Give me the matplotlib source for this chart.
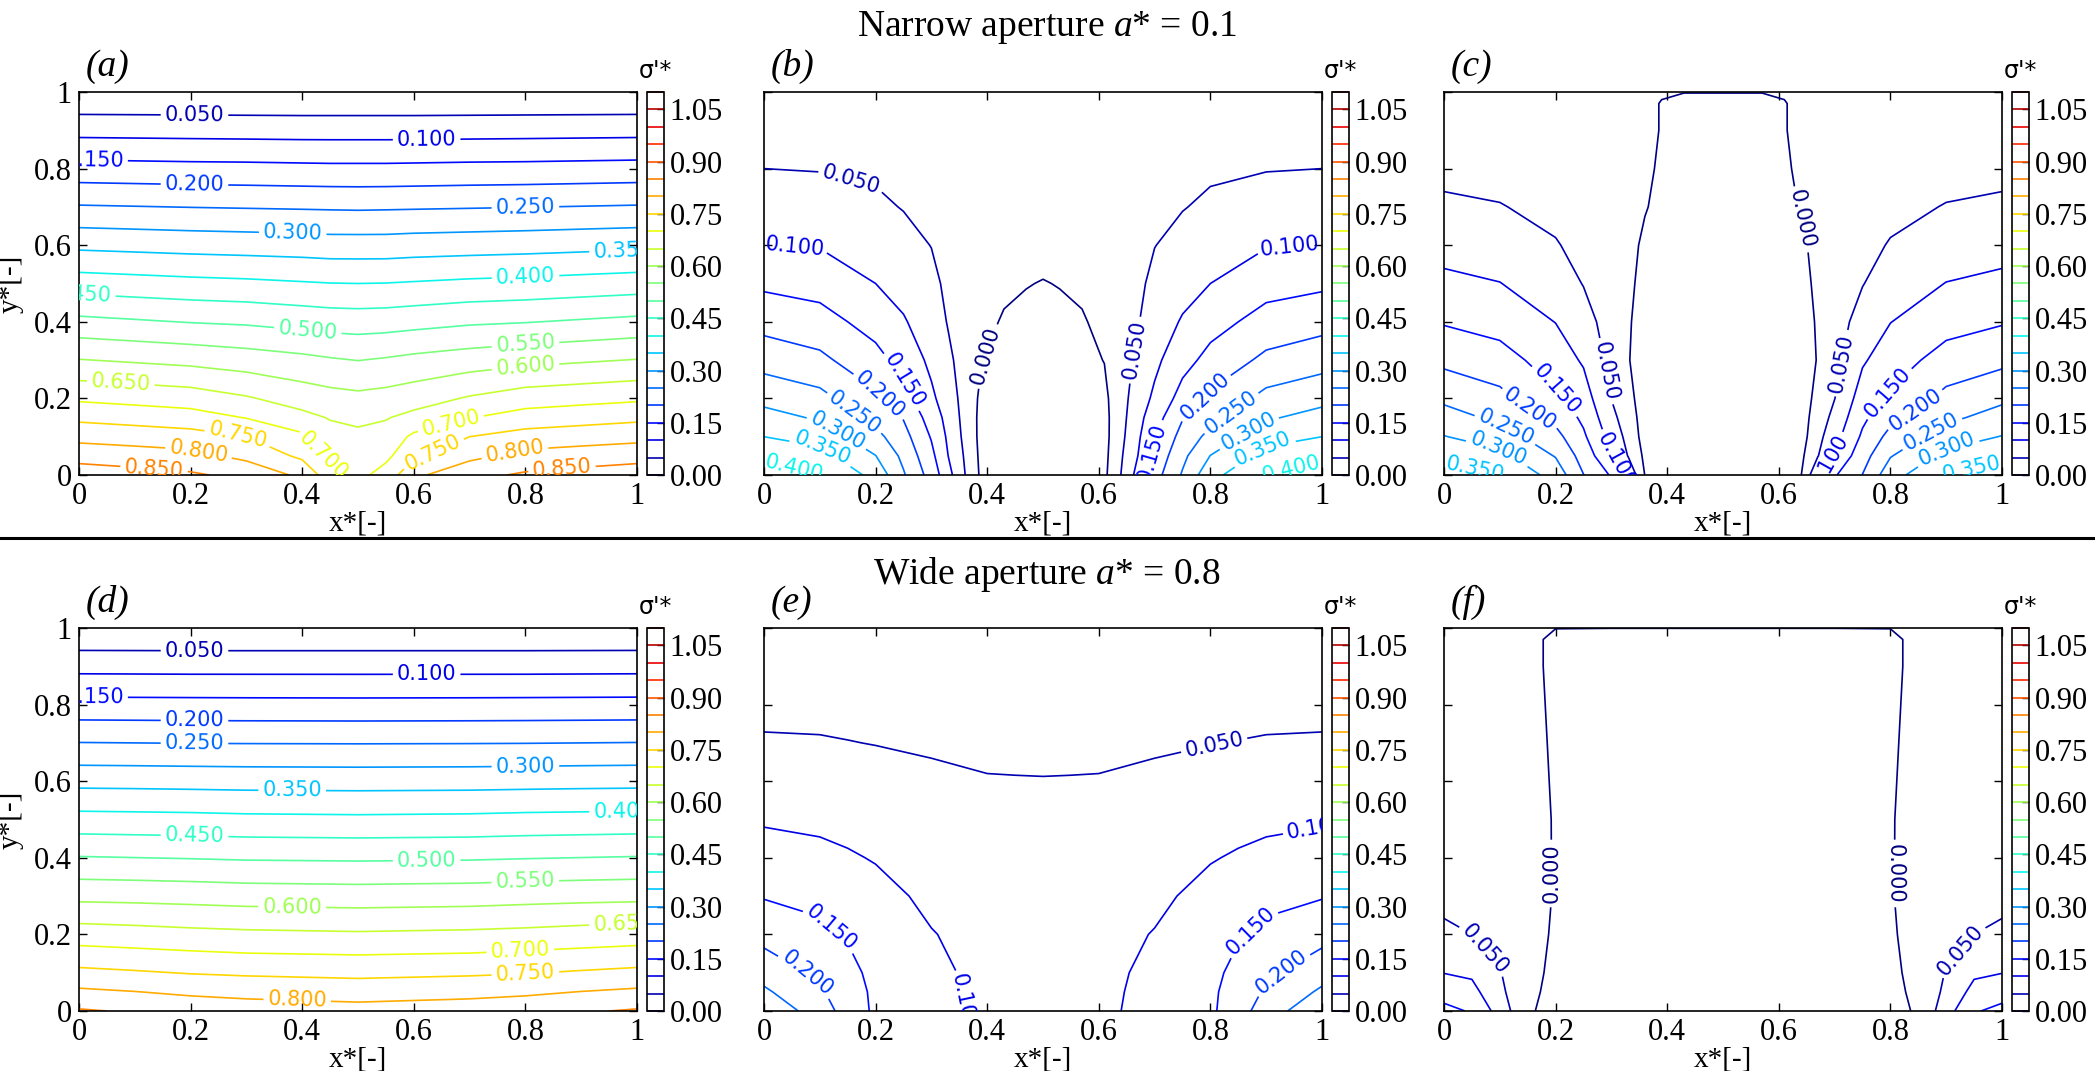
import numpy as np
import matplotlib
matplotlib.use("Agg")
import matplotlib.pyplot as plt
from matplotlib.colors import Normalize
from matplotlib.lines import Line2D

#######################################################
# data: sigma'* on a half grid (x* <= 0.5),
# every field is mirrored about x* = 0.5
#######################################################

levels = np.linspace(0.0, 1.1, 23)
cbar_ticks = [0.00, 0.15, 0.30, 0.45, 0.60, 0.75, 0.90, 1.05]

y_nodes = [0.0, 0.05, 0.1, 0.15, 0.2, 0.3, 0.4, 0.5, 0.6, 0.7, 0.8, 0.9, 1.0]

# (a) narrow aperture, first case -- one list per x* column, bottom to top
x_a = [0.0, 0.1, 0.2, 0.3, 0.4, 0.45, 0.5]
sig_a = [
    [0.878, 0.831, 0.785, 0.739, 0.692, 0.602, 0.513, 0.425, 0.339, 0.254, 0.169, 0.084, 0.002],
    [0.868, 0.823, 0.778, 0.730, 0.684, 0.594, 0.5055, 0.4195, 0.335, 0.2515, 0.167, 0.083, 0.002],
    [0.857, 0.815, 0.770, 0.721, 0.676, 0.586, 0.498, 0.414, 0.331, 0.249, 0.165, 0.082, 0.002],
    [0.836, 0.787, 0.750, 0.698, 0.655, 0.575, 0.493, 0.410, 0.328, 0.247, 0.164, 0.081, 0.002],
    [0.789, 0.740, 0.710, 0.664, 0.628, 0.563, 0.483, 0.404, 0.325, 0.245, 0.162, 0.080, 0.002],
    [0.721, 0.688, 0.668, 0.647, 0.618, 0.555, 0.478, 0.401, 0.322, 0.244, 0.161, 0.080, 0.002],
    [0.685, 0.672, 0.659, 0.641, 0.6125, 0.549, 0.476, 0.400, 0.322, 0.243, 0.161, 0.080, 0.002],
]

# (b) narrow aperture, second case
x_b = [0.0, 0.1, 0.2, 0.25, 0.3, 0.33, 0.36, 0.39, 0.43, 0.47, 0.5]
sig_b = [
    [0.430, 0.388, 0.350, 0.317, 0.286, 0.230, 0.183, 0.141, 0.100, 0.075, 0.050, 0.035, 0.025],
    [0.400, 0.368, 0.331, 0.294, 0.265, 0.211, 0.169, 0.131, 0.097, 0.071, 0.048, 0.033, 0.024],
    [0.335, 0.301, 0.265, 0.235, 0.210, 0.166, 0.131, 0.100, 0.079, 0.058, 0.043, 0.030, 0.022],
    [0.255, 0.238, 0.218, 0.197, 0.170, 0.132, 0.104, 0.084, 0.065, 0.048, 0.038, 0.028, 0.020],
    [0.180, 0.163, 0.146, 0.128, 0.109, 0.089, 0.076, 0.062, 0.049, 0.042, 0.035, 0.026, 0.019],
    [0.117, 0.100, 0.092, 0.084, 0.076, 0.060, 0.047, 0.040, 0.037, 0.034, 0.030, 0.024, 0.018],
    [0.051, 0.045, 0.038, 0.034, 0.031, 0.029, 0.028, 0.027, 0.026, 0.025, 0.023, 0.020, 0.016],
    [-0.010, -0.013, -0.015, -0.014, -0.010, 0.001, 0.009, 0.013, 0.015, 0.017, 0.017, 0.016, 0.014],
    [-0.020, -0.020, -0.020, -0.019, -0.017, -0.011, -0.003, 0.006, 0.011, 0.014, 0.015, 0.015, 0.013],
    [-0.024, -0.024, -0.023, -0.022, -0.020, -0.013, -0.006, 0.001, 0.009, 0.013, 0.014, 0.014, 0.012],
    [-0.025, -0.025, -0.024, -0.023, -0.021, -0.014, -0.007, -0.001, 0.008, 0.012, 0.014, 0.014, 0.012],
]

# (c) narrow aperture, third case
y_c = [0.0, 0.05, 0.1, 0.15, 0.2, 0.3, 0.4, 0.5, 0.6, 0.7, 0.8, 0.9, 0.97, 1.0]
x_c = [0.0, 0.1, 0.2, 0.25, 0.3, 0.33, 0.36, 0.39, 0.43, 0.5]
sig_c = [
    [0.370, 0.339, 0.302, 0.270, 0.240, 0.188, 0.146, 0.111, 0.083, 0.058, 0.038, 0.025, 0.018, 0.015],
    [0.352, 0.314, 0.274, 0.239, 0.214, 0.169, 0.132, 0.101, 0.076, 0.052, 0.035, 0.023, 0.017, 0.014],
    [0.280, 0.247, 0.216, 0.186, 0.158, 0.127, 0.099, 0.076, 0.053, 0.038, 0.027, 0.018, 0.013, 0.011],
    [0.201, 0.180, 0.158, 0.140, 0.124, 0.094, 0.071, 0.048, 0.037, 0.028, 0.021, 0.014, 0.0105, 0.009],
    [0.145, 0.105, 0.082, 0.065, 0.049, 0.035, 0.026, 0.020, 0.016, 0.013, 0.010, 0.007, 0.0056, 0.005],
    [0.095, 0.048, 0.035, 0.022, 0.012, 0.002, 0.004, 0.008, 0.010, 0.010, 0.009, 0.007, 0.0056, 0.005],
    [-0.001, -0.010, -0.020, -0.020, -0.020, -0.018, -0.016, -0.012, -0.006, 0.002, 0.004, 0.005, 0.005, 0.005],
    [-0.010, -0.018, -0.022, -0.023, -0.023, -0.022, -0.020, -0.017, -0.013, -0.008, -0.003, -0.001, -0.001, 0.002],
    [-0.015, -0.020, -0.023, -0.024, -0.024, -0.024, -0.023, -0.022, -0.021, -0.020, -0.020, -0.020, -0.020, 0.002],
    [-0.018, -0.021, -0.024, -0.025, -0.025, -0.025, -0.025, -0.024, -0.023, -0.022, -0.021, -0.020, -0.020, 0.002],
]

# (d) wide aperture, first case
x_d = [0.0, 0.1, 0.2, 0.3, 0.5]
sig_d = [
    [0.855, 0.809, 0.762, 0.718, 0.675, 0.587, 0.503, 0.418, 0.335, 0.251, 0.166, 0.084, 0.002],
    [0.845, 0.801, 0.755, 0.712, 0.670, 0.585, 0.5005, 0.4165, 0.334, 0.250, 0.1655, 0.0835, 0.002],
    [0.834, 0.791, 0.7475, 0.706, 0.664, 0.582, 0.498, 0.415, 0.3325, 0.249, 0.165, 0.083, 0.002],
    [0.826, 0.785, 0.743, 0.701, 0.660, 0.578, 0.495, 0.412, 0.331, 0.2485, 0.1645, 0.083, 0.002],
    [0.819, 0.778, 0.738, 0.697, 0.656, 0.575, 0.493, 0.410, 0.330, 0.248, 0.164, 0.083, 0.002],
]

# (e) wide aperture, second case
y_e = [0.0, 0.05, 0.1, 0.2, 0.3, 0.4, 0.5, 0.6, 0.7, 0.8, 0.9, 1.0]
x_e = [0.0, 0.1, 0.15, 0.2, 0.3, 0.4, 0.45, 0.5]
sig_e = [
    [0.285, 0.258, 0.231, 0.183, 0.147, 0.120, 0.095, 0.075, 0.054, 0.040, 0.028, 0.018],
    [0.228, 0.206, 0.190, 0.162, 0.136, 0.112, 0.090, 0.071, 0.053, 0.039, 0.027, 0.018],
    [0.177, 0.174, 0.166, 0.145, 0.126, 0.105, 0.085, 0.068, 0.051, 0.038, 0.027, 0.018],
    [0.142, 0.140, 0.135, 0.128, 0.115, 0.097, 0.079, 0.064, 0.049, 0.037, 0.026, 0.018],
    [0.115, 0.113, 0.110, 0.102, 0.090, 0.078, 0.067, 0.056, 0.046, 0.036, 0.026, 0.018],
    [0.090, 0.089, 0.088, 0.084, 0.078, 0.071, 0.063, 0.0515, 0.044, 0.035, 0.026, 0.018],
    [0.087, 0.086, 0.085, 0.082, 0.0765, 0.0695, 0.0615, 0.0512, 0.0435, 0.035, 0.026, 0.018],
    [0.085, 0.084, 0.083, 0.080, 0.075, 0.068, 0.060, 0.051, 0.043, 0.035, 0.026, 0.018],
]

# (f) wide aperture, third case
y_f = [0.0, 0.05, 0.1, 0.2, 0.3, 0.5, 0.7, 0.9, 0.97, 1.0]
x_f = [0.0, 0.05, 0.1, 0.15, 0.2, 0.3, 0.5]
sig_f = [
    [0.165, 0.128, 0.099, 0.060, 0.036, 0.022, 0.015, 0.012, 0.0105, 0.010],
    [0.145, 0.115, 0.092, 0.050, 0.035, 0.020, 0.014, 0.011, 0.0095, 0.009],
    [0.080, 0.062, 0.053, 0.035, 0.025, 0.015, 0.010, 0.008, 0.0073, 0.007],
    [0.003, 0.005, 0.007, 0.009, 0.009, 0.008, 0.007, 0.005, 0.005, 0.005],
    [-0.008, -0.006, -0.005, -0.003, -0.0015, -0.0015, -0.003, -0.004, -0.004, 0.0003],
    [-0.010, -0.010, -0.010, -0.010, -0.010, -0.010, -0.010, -0.010, -0.010, 0.0003],
    [-0.010, -0.010, -0.010, -0.010, -0.010, -0.010, -0.010, -0.010, -0.010, 0.0003],
]

#######################################################
# where the contour labels sit (x*, y*)
#######################################################

lab_a = [(0.207, 0.94), (0.623, 0.876), (0.027, 0.822), (0.207, 0.76), (0.80, 0.70),
         (0.383, 0.632), (0.975, 0.587), (0.80, 0.525), (0.005, 0.47), (0.41, 0.375),
         (0.80, 0.345), (0.80, 0.29), (0.075, 0.245), (0.285, 0.105), (0.445, 0.06),
         (0.215, 0.065), (0.135, 0.025), (0.665, 0.143), (0.63, 0.072), (0.78, 0.067),
         (0.865, 0.027)]
lab_b = [(0.154, 0.758), (0.055, 0.608), (0.247, 0.244), (0.211, 0.213), (0.166, 0.170),
         (0.133, 0.118), (0.106, 0.074), (0.055, 0.026), (0.391, 0.314), (0.661, 0.327),
         (0.942, 0.614), (0.789, 0.206), (0.833, 0.17), (0.865, 0.121), (0.893, 0.072),
         (0.942, 0.031), (0.685, 0.063)]
lab_c = [(0.287, 0.270), (0.201, 0.222), (0.156, 0.179), (0.114, 0.131), (0.098, 0.067),
         (0.057, 0.022), (0.308, 0.039), (0.642, 0.668), (0.716, 0.291), (0.796, 0.215),
         (0.84, 0.179), (0.868, 0.126), (0.90, 0.072), (0.944, 0.031), (0.692, 0.03)]
lab_d = [(0.207, 0.938), (0.623, 0.879), (0.027, 0.818), (0.207, 0.758), (0.207, 0.699),
         (0.80, 0.638), (0.382, 0.576), (0.975, 0.519), (0.207, 0.457), (0.623, 0.396),
         (0.80, 0.337), (0.382, 0.272), (0.975, 0.227), (0.791, 0.157), (0.80, 0.096),
         (0.391, 0.022)]
lab_e = [(0.807, 0.692), (0.99, 0.475), (0.122, 0.219), (0.082, 0.106), (0.357, 0.02),
         (0.871, 0.21), (0.923, 0.111)]
lab_f = [(0.082, 0.174), (0.194, 0.359), (0.808, 0.359), (0.918, 0.169)]

#######################################################
# figure set-up
#######################################################

plt.rcParams['font.family'] = 'Liberation Serif'
plt.rcParams['mathtext.fontset'] = 'custom'
plt.rcParams['mathtext.rm'] = 'Liberation Serif'
plt.rcParams['mathtext.it'] = 'Liberation Serif:italic'
plt.rcParams['axes.linewidth'] = 1.2

W, H = 2095, 1071
fig = plt.figure(figsize=(W / 100, H / 100), dpi=100)
norm = Normalize(vmin=0.0, vmax=1.1)

col_left = [79, 764, 1444]
row_top = [92, 628]
ax_w, ax_h = 558, 383


def mirror(xh, cols):
    z = np.array(cols).T
    x = np.concatenate([xh, 1.0 - np.array(xh)[::-1][1:]])
    return x, np.hstack([z, z[:, ::-1][:, 1:]])


def panel(row, col, xh, yh, cols, labels, tag):
    left, top = col_left[col], row_top[row]
    ax = fig.add_axes([left / W, (H - top - ax_h) / H, ax_w / W, ax_h / H])
    cax = fig.add_axes([(left + ax_w + 10) / W, (H - top - ax_h) / H, 17 / W, ax_h / H])

    x, z = mirror(xh, cols)
    cs = ax.contour(x, yh, z, levels=levels, cmap='jet', norm=norm, linewidths=1.2)
    with plt.rc_context({'font.family': 'DejaVu Sans'}):
        ax.clabel(cs, fmt='%.3f', fontsize=15, manual=labels, inline=True,
                  inline_spacing=4)

    ax.set_xlim(0, 1)
    ax.set_ylim(0, 1)
    ax.set_xticks([0, 0.2, 0.4, 0.6, 0.8, 1.0])
    ax.set_yticks([0, 0.2, 0.4, 0.6, 0.8, 1.0])
    ax.set_xticklabels(['0', '0.2', '0.4', '0.6', '0.8', '1'])
    ax.set_yticklabels(['0', '0.2', '0.4', '0.6', '0.8', '1'])
    ax.tick_params(direction='in', top=True, right=True, length=6, width=1,
                   labelsize=22, pad=5)
    if col > 0:
        ax.tick_params(labelleft=False)
    else:
        ax.set_ylabel('y*[-]', fontsize=21)
        ax.yaxis.set_label_coords(-0.1, 0.5)
    ax.set_xlabel('x*[-]', fontsize=21, labelpad=0)
    ax.text(0.012, 1.02, tag, transform=ax.transAxes, fontsize=27,
            style='italic', ha='left', va='bottom')

    cb = fig.colorbar(cs, cax=cax, ticks=cbar_ticks, format='%.2f')
    cb.outline.set_linewidth(1.2)
    cax.tick_params(direction='in', length=5, width=1, labelsize=22, pad=4)
    cax.set_title("σ'*", fontsize=17, family='DejaVu Sans', pad=10)
    return ax


panel(0, 0, x_a, y_nodes, sig_a, lab_a, '(a)')
panel(0, 1, x_b, y_nodes, sig_b, lab_b, '(b)')
panel(0, 2, x_c, y_c, sig_c, lab_c, '(c)')
panel(1, 0, x_d, y_nodes, sig_d, lab_d, '(d)')
panel(1, 1, x_e, y_e, sig_e, lab_e, '(e)')
panel(1, 2, x_f, y_f, sig_f, lab_f, '(f)')

#######################################################
# row titles and the separating rule
#######################################################

fig.text(1047 / W, 1 - 27 / H, 'Narrow aperture $a$* = 0.1', fontsize=27,
         ha='center', va='center')
fig.text(1047 / W, 1 - 574 / H, 'Wide aperture $a$* = 0.8', fontsize=27,
         ha='center', va='center')
fig.add_artist(Line2D([0, 1], [1 - 538 / H, 1 - 538 / H], transform=fig.transFigure,
                      color='black', linewidth=2.2))

fig.savefig('out.png', dpi=100)
